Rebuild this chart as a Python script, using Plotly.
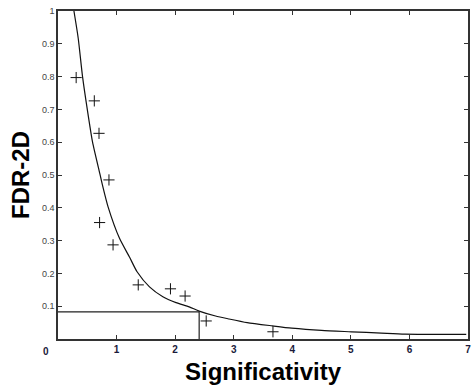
import plotly.graph_objects as go

# Observed points (crosses)
pts_x = [0.31, 0.62, 0.70, 0.87, 0.71, 0.94, 1.37, 1.92, 2.17, 2.53, 3.67]
pts_y = [0.797, 0.726, 0.627, 0.485, 0.355, 0.287, 0.165, 0.153, 0.131, 0.055, 0.022]

# Fitted curve
curve_x = [0.272, 0.345, 0.419, 0.50, 0.59, 0.713, 0.758, 0.855, 1.05, 1.22, 1.35,
           1.562, 1.79, 2.015, 2.24, 2.41, 2.69, 2.92, 3.23, 3.66, 3.99, 4.50,
           5.01, 5.52, 5.92, 6.97]
curve_y = [1.0, 0.917, 0.800, 0.700, 0.600, 0.505, 0.470, 0.403, 0.307, 0.250, 0.205,
           0.159, 0.129, 0.111, 0.098, 0.085, 0.070, 0.061, 0.050, 0.040, 0.033, 0.026,
           0.022, 0.018, 0.015, 0.014]

# Threshold lines
thr_x = 2.41
thr_y = 0.083

x_ticks = [0, 1, 2, 3, 4, 5, 6, 7]
x_ticktext = ["", "1", "2", "3", "4", "5", "6", "7"]
y_ticks = [0, 0.1, 0.2, 0.3, 0.4, 0.5, 0.6, 0.7, 0.8, 0.9, 1.0]
y_ticktext = ["", "0.1", "0.2", "0.3", "0.4", "0.5", "0.6", "0.7", "0.8", "0.9", "1"]

fig = go.Figure()
fig.add_trace(go.Scatter(x=curve_x, y=curve_y, mode="lines",
                         line=dict(color="#111111", width=1.2, shape="spline", smoothing=0.6),
                         showlegend=False))
fig.add_trace(go.Scatter(x=[0, thr_x, thr_x], y=[thr_y, thr_y, 0], mode="lines",
                         line=dict(color="#222222", width=1.2), showlegend=False))
fig.add_trace(go.Scatter(x=pts_x, y=pts_y, mode="markers",
                         marker=dict(symbol="cross-thin", size=8,
                                     line=dict(color="#111111", width=1)),
                         showlegend=False))

axis_common = dict(showgrid=False, zeroline=False, showline=True, linecolor="#333333",
                   linewidth=1.5, mirror="ticks", ticks="inside", ticklen=4,
                   tickcolor="#333333", tickwidth=1)

fig.update_xaxes(range=[0, 7], tickvals=x_ticks, ticktext=x_ticktext,
                 tickfont=dict(family="Liberation Sans, Arial", size=10, color="#1a1a3a", weight="bold"),
                 title=dict(text="Significativity",
                            font=dict(family="Liberation Sans, Arial", size=24, color="#000000", weight="bold"),
                            standoff=9),
                 **axis_common)
fig.update_yaxes(range=[0, 1], tickvals=y_ticks, ticktext=y_ticktext,
                 tickfont=dict(family="Liberation Sans, Arial", size=9, color="#444444"),
                 title=dict(text="FDR-2D",
                            font=dict(family="Liberation Sans, Arial", size=24, color="#000000", weight="bold"),
                            standoff=6),
                 **axis_common)

fig.add_annotation(x=-0.016, y=-0.016, xref="paper", yref="paper", text="0",
                   showarrow=False, font=dict(family="Liberation Sans, Arial", size=10,
                                              color="#1a1a3a", weight="bold"),
                   xanchor="right", yanchor="top")

fig.update_layout(width=473, height=385, margin=dict(l=58, r=3, t=11, b=46),
                  plot_bgcolor="white", paper_bgcolor="white")

fig.write_html("out.html")
